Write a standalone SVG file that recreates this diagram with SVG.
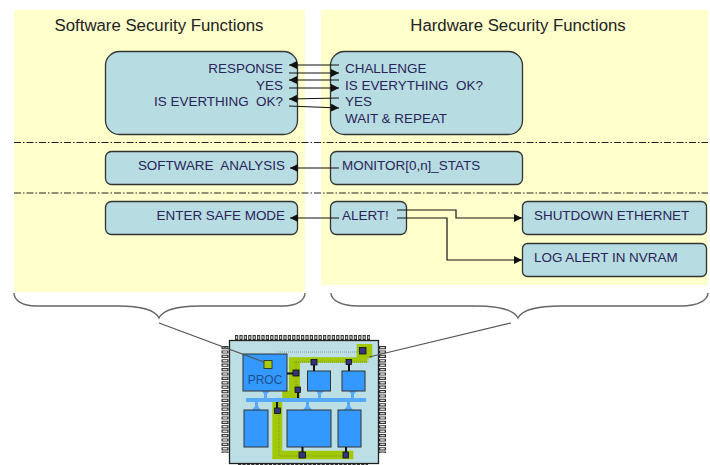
<svg xmlns="http://www.w3.org/2000/svg" width="710" height="465" viewBox="0 0 710 465">
<style>
text{font-family:"Liberation Sans",Arial,sans-serif;font-size:13.45px;fill:#2a2358;white-space:pre}
.t{font-size:16.8px;fill:#222;text-anchor:middle}
.e{text-anchor:end}
.n{fill:#b7dde2;stroke:#333;stroke-width:1.3}
.c{fill:none;stroke:#111;stroke-width:1.2}
.a{marker-end:url(#ah)}
.sep{fill:none;stroke:#222;stroke-width:1;stroke-dasharray:7 2 1.5 2}
.br{fill:none;stroke:#666;stroke-width:1.4}
.b{fill:#3399ff;stroke:#333;stroke-width:1}
.bus{fill:#55aaff}
.g{fill:#a2c900}
.m{fill:#33337f;stroke:#111;stroke-width:.8}
.k{stroke:#111;stroke-width:2;fill:none}
.dot{fill:none;stroke:#777;stroke-width:.7;stroke-dasharray:1 1}
.pd{fill:none;stroke:#333;stroke-dasharray:3.2 1.2}
.pl{fill:none;stroke:#ddd;stroke-dasharray:1.400 3;stroke-dashoffset:-.9}
</style>
<defs>
<marker id="ah" markerWidth="9" markerHeight="9" refX="8" refY="4" orient="auto" markerUnits="userSpaceOnUse"><path d="M0 0L8 4L0 8Z" fill="#111"/></marker>
</defs>
<rect x="14" y="10" width="291" height="282" fill="#ffffcc"/>
<rect x="321" y="10" width="387" height="275" fill="#ffffcc"/>
<text class="t" x="159" y="31">Software Security Functions</text>
<text class="t" x="518" y="31">Hardware Security Functions</text>
<path class="sep" d="M14 142.500H708"/>
<path class="sep" d="M14 193H708"/>
<g id="sw-handshake"><rect class="n" x="105.500" y="51.500" width="192" height="83" rx="14"/>
<text class="e" x="283" y="73">RESPONSE</text><text class="e" x="283" y="90">YES</text><text class="e" x="283" y="106">IS EVERTHING  OK?</text></g>
<g id="hw-handshake"><rect class="n" x="330.500" y="51.500" width="192" height="83" rx="14"/>
<text x="345" y="73">CHALLENGE</text><text x="345" y="90">IS EVERYTHING  OK?</text><text x="345" y="106">YES</text><text x="345" y="123">WAIT &amp; REPEAT</text></g>
<g id="sw-analysis"><rect class="n" x="105.500" y="151.500" width="192" height="33" rx="6"/><text class="e" x="285" y="170">SOFTWARE  ANALYSIS</text></g>
<g id="hw-monitor"><rect class="n" x="330.500" y="151.500" width="192" height="33" rx="6"/><text x="342" y="170">MONITOR[0,n]_STATS</text></g>
<g id="sw-safe"><rect class="n" x="105.500" y="201.500" width="192" height="33" rx="6"/><text class="e" x="285" y="220">ENTER SAFE MODE</text></g>
<g id="hw-alert"><rect class="n" x="330.500" y="201.500" width="76" height="33" rx="6"/><text x="342" y="220">ALERT!</text></g>
<g id="shutdown"><rect class="n" x="522.500" y="201.500" width="184" height="33" rx="5"/><text x="534" y="220">SHUTDOWN ETHERNET</text></g>
<g id="log"><rect class="n" x="522.500" y="243.500" width="184" height="33" rx="5"/><text x="534" y="262">LOG ALERT IN NVRAM</text></g>
<g id="connectors">
<path class="c a" d="M339 65H289"/><path class="c a" d="M289 73H339"/><path class="c a" d="M339 80H289"/><path class="c a" d="M289 88H339"/><path class="c a" d="M339 98L289 99"/><path class="c a" d="M289 106L339 108"/>
<path class="c a" d="M339 168H290"/><path class="c a" d="M339 218H290"/>
<path class="c a" d="M397 210H456V218H522"/><path class="c a" d="M397 218H447V260H522"/>
</g>
<g id="braces">
<path class="br" d="M14 293C14 300 22 306 36 306H118C142 306 155 310 159 318C163 310 176 306 200 306H283C297 306 305 300 305 293"/>
<path class="br" d="M331 293C331 300 341 306 358 306H475C499 306 514 310 518 318C522 310 537 306 561 306H681C698 306 708 300 708 293"/>
</g>
<g id="chip">
<path class="pd" d="M235 337.500H370" stroke-width="5"/>
<path class="pl" d="M235 337.500H370" stroke-width="2.500"/>
<path class="pd" d="M225 346V453" stroke-width="7"/>
<path class="pl" d="M225 346V453" stroke-width="4.500"/>
<path class="pd" d="M382.500 346V453" stroke-width="7"/>
<path class="pl" d="M382.500 346V453" stroke-width="4.500"/>
<path class="pd" d="M238 464.300H368" stroke-width="1.500"/>
<rect x="229.500" y="340.500" width="149" height="123" fill="#bbdfe5" stroke="#222" stroke-width="1.300"/>
<path class="g" d="M289 357.300H356.700V344H372.300V358.300H367.300V362.700H300V398.300H282.300V450.700H353.300V459.300H272.300V398.300H282.300V390.700H289Z"/>
<path class="dot" d="M278 352H358M358 352V346M294 362H368V356M296 362V385H299M278 398H279V456H345"/>
<rect class="bus" x="246" y="398" width="120" height="4"/>
<path class="bus" d="M262 391H270L267 394V398H264V394ZM316 391H324L321 394V398H318V394ZM349 391H357L354 394V398H351V394ZM255 402H258V406L261 410H252L255 406ZM306 402H309V406L312 410H303L306 406ZM347 402H350V406L353 410H344L347 406Z"/>
<rect class="b" x="243" y="354" width="44" height="37"/>
<rect class="b" x="307.500" y="371" width="23" height="20"/>
<rect class="b" x="342" y="371" width="23" height="20"/>
<rect class="b" x="244" y="410" width="24" height="37"/>
<rect class="b" x="287" y="410" width="44" height="37"/>
<rect class="b" x="338" y="410" width="23" height="37"/>
<text x="265" y="384" text-anchor="middle" style="font-size:12px;fill:#1d4f8f">PROC</text>
<rect x="264" y="360.500" width="8" height="8" fill="#a9cb10" stroke="#222" stroke-width=".8"/>
<path class="k" d="M287 373.500H294M314 364V371M349 364V371M298 392V398M277 402V408M302.500 447V452M346 447V452"/>
<rect class="m" x="293" y="370" width="6" height="6"/><rect class="m" x="295" y="387" width="5.500" height="5.500"/><rect class="m" x="311" y="359.500" width="6" height="5.500"/><rect class="m" x="346" y="359.500" width="5.500" height="5"/><rect class="m" x="359.500" y="347.500" width="6.500" height="6.500"/><rect class="m" x="274.500" y="408" width="6" height="5.500"/><rect class="m" x="299" y="452" width="6.500" height="6"/><rect class="m" x="343" y="452" width="5.500" height="6"/>
<path d="M159 323L264 362" stroke="#555" stroke-width="1.200" fill="none"/>
<path d="M369 357L511 323" stroke="#555" stroke-width="1.200" fill="none"/>
</g>
</svg>
